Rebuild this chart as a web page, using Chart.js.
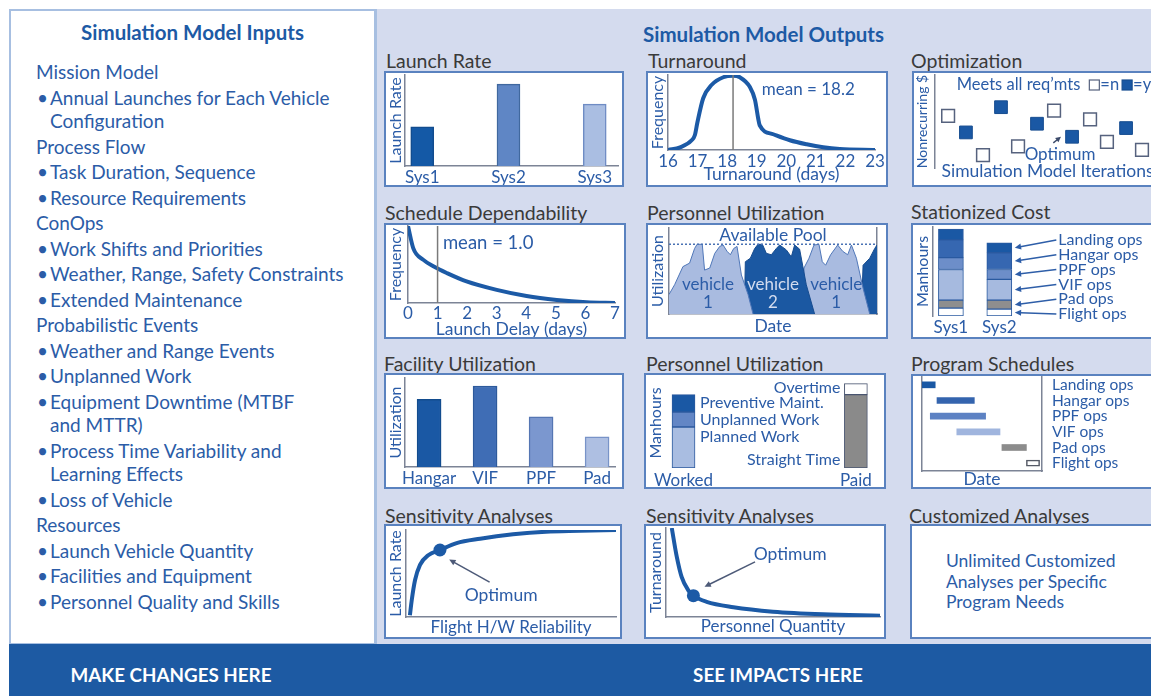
<!DOCTYPE html>
<html lang="en">
<head>
<meta charset="utf-8">
<title>Simulation Model Inputs and Outputs</title>
<script src="https://cdn.jsdelivr.net/npm/chart.js@4.4.1/dist/chart.umd.min.js"></script>
<style>
  html, body { margin: 0; padding: 0; }
  body {
    width: 1151px; height: 696px; position: relative; overflow: hidden;
    background: #ffffff; font-family: Lato, "Open Sans", sans-serif;
  }
  #inputs {
    position: absolute; left: 9px; top: 9px; width: 367px; height: 636px;
    box-sizing: border-box; border: 2px solid #a7bfe1; background: #fff;
  }
  #inputs h2 {
    margin: 0; position: absolute; left: 0; right: 0; top: 10px; line-height: 22px;
    text-align: center; font-size: 20.5px; font-weight: bold; color: #1d5aa5;
  }
  #inputList { position: absolute; left: 25px; top: 49px; font-size: 19px; color: #2b5ca7; white-space: nowrap; }
  #inputList div { line-height: 23.5px; margin-top: 2px; }
  #inputList div:first-child { margin-top: 0; }
  #inputList .item { padding-left: 14px; position: relative; }
  #inputList .dot { position: absolute; left: 1px; }
  #outputs { position: absolute; left: 376px; top: 9px; width: 775px; height: 635px; background: #d4dbee; }
  #outputs h2 {
    margin: 0; position: absolute; left: 0; right: 0; top: 14px; line-height: 22px;
    text-align: center; font-size: 20.5px; font-weight: bold; color: #1d5aa5;
  }
  #divider { position: absolute; left: 374px; top: 9px; width: 3px; height: 687px; background: #a7bfe1; }
  #bar { position: absolute; left: 9px; top: 644px; width: 1142px; height: 52px; background: #1d5aa3; }
  #bar span {
    position: absolute; top: 0; line-height: 62px; color: #fff; font-weight: bold;
    font-size: 18.8px; white-space: nowrap; transform: translateX(-50%);
  }
  .ttl { position: absolute; font-size: 19.5px; line-height: 20px; color: #3a3a3a; white-space: nowrap; }
  .box { position: absolute; box-sizing: border-box; border: 2px solid #5a82bf; background: #fff; }
  .box canvas { display: block; }
  #custom { position: absolute; left: 34px; top: 25px; font-size: 17.5px; line-height: 20.5px; color: #2b5ca7; white-space: nowrap; }
</style>
</head>
<body>

<div id="inputs">
  <h2>Simulation Model Inputs</h2>
  <div id="inputList">
    <div>Mission Model</div>
    <div class="item"><span class="dot">•</span>Annual Launches for Each Vehicle<br>Configuration</div>
    <div>Process Flow</div>
    <div class="item"><span class="dot">•</span>Task Duration, Sequence</div>
    <div class="item"><span class="dot">•</span>Resource Requirements</div>
    <div>ConOps</div>
    <div class="item"><span class="dot">•</span>Work Shifts and Priorities</div>
    <div class="item"><span class="dot">•</span>Weather, Range, Safety Constraints</div>
    <div class="item"><span class="dot">•</span>Extended Maintenance</div>
    <div>Probabilistic Events</div>
    <div class="item"><span class="dot">•</span>Weather and Range Events</div>
    <div class="item"><span class="dot">•</span>Unplanned Work</div>
    <div class="item"><span class="dot">•</span>Equipment Downtime (MTBF<br>and MTTR)</div>
    <div class="item"><span class="dot">•</span>Process Time Variability and<br>Learning Effects</div>
    <div class="item"><span class="dot">•</span>Loss of Vehicle</div>
    <div>Resources</div>
    <div class="item"><span class="dot">•</span>Launch Vehicle Quantity</div>
    <div class="item"><span class="dot">•</span>Facilities and Equipment</div>
    <div class="item"><span class="dot">•</span>Personnel Quality and Skills</div>
  </div>
</div>

<div id="outputs"><h2>Simulation Model Outputs</h2></div>
<div id="divider"></div>

<div class="ttl" style="left:386px;top:51px">Launch Rate</div>
<div class="box" style="left:384px;top:71px;width:240px;height:116px"><canvas id="launchRate" width="236" height="112"></canvas></div>
<div class="ttl" style="left:648px;top:51px">Turnaround</div>
<div class="box" style="left:646px;top:71px;width:242px;height:116px"><canvas id="turnaround" width="238" height="112"></canvas></div>
<div class="ttl" style="left:911px;top:51px">Optimization</div>
<div class="box" style="left:912px;top:71px;width:250px;height:116px"><canvas id="optimization" width="246" height="112"></canvas></div>

<div class="ttl" style="left:385px;top:203px">Schedule Dependability</div>
<div class="box" style="left:384px;top:223px;width:242px;height:116px"><canvas id="dependability" width="238" height="112"></canvas></div>
<div class="ttl" style="left:647px;top:203px">Personnel Utilization</div>
<div class="box" style="left:646px;top:223px;width:242px;height:116px"><canvas id="crewPool" width="238" height="112"></canvas></div>
<div class="ttl" style="left:911px;top:202px">Stationized Cost</div>
<div class="box" style="left:911px;top:223px;width:250px;height:116px"><canvas id="stationCost" width="246" height="112"></canvas></div>

<div class="ttl" style="left:384px;top:354px">Facility Utilization</div>
<div class="box" style="left:384px;top:373px;width:240px;height:116px"><canvas id="facility" width="236" height="112"></canvas></div>
<div class="ttl" style="left:646px;top:354px">Personnel Utilization</div>
<div class="box" style="left:644px;top:373px;width:242px;height:116px"><canvas id="manhours" width="238" height="112"></canvas></div>
<div class="ttl" style="left:911px;top:354px">Program Schedules</div>
<div class="box" style="left:911px;top:374px;width:250px;height:115px"><canvas id="schedule" width="246" height="111"></canvas></div>

<div class="ttl" style="left:385px;top:506px">Sensitivity Analyses</div>
<div class="box" style="left:384px;top:524px;width:238px;height:115px"><canvas id="sensReliability" width="234" height="111"></canvas></div>
<div class="ttl" style="left:646px;top:506px">Sensitivity Analyses</div>
<div class="box" style="left:644px;top:524px;width:242px;height:115px"><canvas id="sensPersonnel" width="238" height="111"></canvas></div>
<div class="ttl" style="left:909px;top:506px">Customized Analyses</div>
<div class="box" style="left:910px;top:524px;width:250px;height:115px">
  <div id="custom">Unlimited Customized<br>Analyses per Specific<br>Program Needs</div>
</div>

<div id="bar">
  <span style="left:162px">MAKE CHANGES HERE</span>
  <span style="left:769px">SEE IMPACTS HERE</span>
</div>

<script>
// ---- values ----
const launchSystems = ['Sys1', 'Sys2', 'Sys3'];
const launchRates = [0.43, 0.9, 0.68];

const turnDays = [16, 16.41, 16.8, 16.91, 16.99, 17.19, 17.48, 17.87, 18.2, 18.43, 18.77, 18.94, 19.05, 19.1, 19.56, 20.12, 20.69, 21.25, 21.81, 23];
const turnFreq = [0, 0.035, 0.13, 0.2, 0.36, 0.69, 0.87, 0.97, 0.99, 0.97, 0.84, 0.67, 0.42, 0.33, 0.21, 0.13, 0.076, 0.036, 0.013, 0];
const turnMean = 18.2;

const optIteration = [0.7, 1.65, 2.56, 3.52, 4.43, 5.44, 6.35, 7.31, 8.27, 9.17, 10.19, 11.04];
const optCost = [0.53, 0.34, 0.08, 0.63, 0.18, 0.44, 0.59, 0.29, 0.49, 0.23, 0.39, 0.14];
const optMeetsReqs = [false, true, false, true, false, true, false, true, false, false, true, false];

const delayDays = [0, 0.18, 0.52, 0.89, 1.31, 1.98, 3.0, 4.01, 5.03, 6.04, 7.0];
const delayFreq = [1.0, 0.71, 0.56, 0.47, 0.39, 0.28, 0.17, 0.09, 0.04, 0.01, 0.0];
const delayMean = 1.0;

// personnel pool use over time, one run per vehicle flow
const crewDates1 = [0, 2.7, 6.7, 9.9, 12.3, 13.5, 16, 17.1, 19.6, 22, 24.4, 26, 27.9, 29.5, 31.1, 32.7, 34.8, 38, 40.4];
const crewUse1 = [0.28, 0.42, 0.68, 0.73, 0.94, 1.0, 1.0, 0.63, 0.66, 0.87, 0.97, 0.99, 0.9, 0.85, 0.94, 0.97, 0.56, 0.28, 0];
const crewDates2 = [36.2, 36.7, 39.1, 41.2, 42.8, 44.9, 46.8, 49.2, 51.6, 53.2, 56.4, 58.8, 60.4, 62.8, 66, 70];
const crewUse2 = [0, 0.75, 0.8, 0.94, 1.0, 1.0, 0.87, 0.85, 0.94, 0.99, 0.92, 0.82, 0.99, 0.93, 0.42, 0];
const crewDates3 = [64.1, 64.9, 67.3, 69.7, 72.1, 73.7, 75.3, 77.7, 81.1, 83.5, 85.9, 87.7, 90.1, 93.3, 96.5];
const crewUse3 = [0, 0.66, 0.8, 0.99, 1.0, 0.75, 0.7, 0.85, 0.99, 0.9, 0.85, 0.99, 0.8, 0.37, 0];
const crewDates4 = [92.5, 93.3, 96.5, 98.9, 100];
const crewUse4 = [0, 0.7, 0.8, 0.94, 0.99];
const availablePool = 1.0;

const costSystems = ['Sys1', 'Sys2'];
const costOps = ['Flight ops', 'Pad ops', 'VIF ops', 'PPF ops', 'Hangar ops', 'Landing ops'];
const flightOpsHours = [8, 7];
const padOpsHours = [8, 9];
const vifOpsHours = [31, 21];
const ppfOpsHours = [12, 10];
const hangarOpsHours = [18, 17];
const landingOpsHours = [11, 10];

const facilities = ['Hangar', 'VIF', 'PPF', 'Pad'];
const facilityUse = [0.76, 0.91, 0.565, 0.34];

const laborColumns = ['Worked', 'Paid'];
const workedParts = ['Planned Work', 'Unplanned Work', 'Preventive Maint.'];
const workedHours = [41, 15, 17.4];
const paidParts = ['Straight Time', 'Overtime'];
const paidHours = [73.4, 11];

const scheduleOps = ['Landing ops', 'Hangar ops', 'PPF ops', 'VIF ops', 'Pad ops', 'Flight ops'];
const scheduleStart = [0, 12.5, 6.9, 29, 66.6, 87];
const scheduleEnd = [11, 43.6, 53, 65, 87, 98];

const reliability = [0.019, 0.028, 0.044, 0.068, 0.108, 0.165, 0.246, 0.36, 0.52, 0.68, 0.845, 1.02];
const sensLaunchRate = [0.02, 0.195, 0.425, 0.6, 0.71, 0.77, 0.85, 0.9, 0.95, 0.98, 0.99, 1.0];
const reliabilityBest = 5;

const personnelQty = [0.027, 0.05, 0.073, 0.104, 0.128, 0.19, 0.315, 0.5, 0.735, 1.0];
const sensTurnaround = [1.0, 0.68, 0.45, 0.3, 0.24, 0.17, 0.11, 0.06, 0.03, 0.015];
const personnelBest = 4;

// ---- colours ----
const BLUE = '#2b5ca7';
const NAVY = '#1a58a4';
const CURVE = '#1c5aa6';
const AXIS = '#7c8496';
const NO_GRID = { display: false, drawTicks: false };

document.addEventListener('DOMContentLoaded', function () {
    Chart.defaults.font.family = 'Lato, "Open Sans", sans-serif';
    Chart.defaults.color = BLUE;

    drawLaunchRate();
    drawTurnaround();
    drawOptimization();
    drawDependability();
    drawCrewPool();
    drawStationCost();
    drawFacility();
    drawManhours();
    drawSchedule();
    drawSensitivity('sensReliability', reliability, sensLaunchRate, reliabilityBest, 'Launch Rate', 'Flight H/W Reliability',
        { top: 4, right: 4, bottom: 0, left: 0 }, 1.02, -1,
        [{ type: 'arrow', x: 0.406, y: 0.4, x2: 0.21, y2: 0.66, color: '#4d5a78' },
         { type: 'text', x: 0.462, y: 0.25, text: 'Optimum', size: 17.5 }]);
    drawSensitivity('sensPersonnel', personnelQty, sensTurnaround, personnelBest, 'Turnaround', 'Personnel Quantity',
        { top: 2, right: 4, bottom: 0, left: 0 }, 1, 0,
        [{ type: 'arrow', x: 0.416, y: 0.62, x2: 0.18, y2: 0.34, color: '#4d5a78' },
         { type: 'text', x: 0.58, y: 0.7, text: 'Optimum', size: 17.5 }]);
});

// ---- shared helpers ----
function fitScale(size) {
    return function (scale) {
        if (scale.isHorizontal()) {
            scale.height = size;
        } else {
            scale.width = size;
        }
        scale.paddingLeft = scale.paddingRight = scale.paddingTop = scale.paddingBottom = 0;
    };
}

function axisTitle(text, size, bottomPad) {
    return { display: true, text: text, color: BLUE, font: { size: size }, padding: { top: 0, bottom: bottomPad || 0 } };
}

function lineBorder(show) {
    return { display: show, color: AXIS, width: 1.5 };
}

function valueAxis(title, max, width, border, titleSize) {
    return {
        min: 0, max: max,
        grid: NO_GRID,
        border: lineBorder(border),
        ticks: { display: false },
        title: axisTitle(title, titleSize || 16),
        afterFit: fitScale(width)
    };
}

// linear axis that shows category names at 0, 1, 2 ...
function labelAxis(labels, min, max, height, pad, border) {
    return {
        type: 'linear', min: min, max: max, offset: false,
        grid: NO_GRID,
        border: lineBorder(border),
        afterBuildTicks: function (scale) {
            scale.ticks = labels.map(function (l, i) { return { value: i }; });
        },
        ticks: {
            color: BLUE, font: { size: 17 }, padding: pad, maxRotation: 0, autoSkip: false,
            callback: function (v) { return labels[v]; }
        },
        afterFit: fitScale(height)
    };
}

function chartOptions(padding, scales, extra) {
    return Object.assign({
        responsive: false,
        animation: false,
        events: [],
        layout: { padding: padding, autoPadding: false },
        plugins: { legend: { display: false }, tooltip: { enabled: false } },
        scales: scales
    }, extra || {});
}

function drawArrow(ctx, x1, y1, x2, y2, width, head) {
    const a = Math.atan2(y2 - y1, x2 - x1);
    ctx.lineWidth = width;
    ctx.beginPath();
    ctx.moveTo(x1, y1);
    ctx.lineTo(x2 - Math.cos(a) * head * 0.8, y2 - Math.sin(a) * head * 0.8);
    ctx.stroke();
    ctx.beginPath();
    ctx.moveTo(x2, y2);
    ctx.lineTo(x2 - head * Math.cos(a - 0.45), y2 - head * Math.sin(a - 0.45));
    ctx.lineTo(x2 - head * Math.cos(a + 0.45), y2 - head * Math.sin(a + 0.45));
    ctx.closePath();
    ctx.fill();
}

// annotations given in data units (or pixels when pixel: true)
function notes(items) {
    return {
        id: 'notes',
        afterDatasetsDraw: function (chart) {
            const ctx = chart.ctx;
            const area = chart.chartArea;
            const list = typeof items === 'function' ? items(chart) : items;
            list.forEach(function (n) {
                const xs = chart.scales.x, ys = chart.scales.y;
                const px = function (v) { return n.pixel ? v : xs.getPixelForValue(v); };
                const py = function (v) { return n.pixel ? v : ys.getPixelForValue(v); };
                ctx.save();
                ctx.fillStyle = n.color || BLUE;
                ctx.strokeStyle = n.color || BLUE;
                ctx.font = (n.size || 16) + 'px Lato, "Open Sans", sans-serif';
                ctx.textBaseline = 'middle';
                if (n.type === 'text') {
                    ctx.textAlign = n.align || 'center';
                    ctx.fillText(n.text, px(n.x), py(n.y));
                } else if (n.type === 'arrow') {
                    drawArrow(ctx, px(n.x), py(n.y), px(n.x2), py(n.y2), n.width || 1.5, n.head || 7);
                } else if (n.type === 'vline') {
                    ctx.lineWidth = n.width || 1.5;
                    ctx.beginPath();
                    ctx.moveTo(px(n.x), area.bottom);
                    ctx.lineTo(px(n.x), area.top);
                    ctx.stroke();
                } else if (n.type === 'hline') {
                    ctx.lineWidth = n.width || 1.5;
                    ctx.setLineDash(n.dash || []);
                    ctx.beginPath();
                    ctx.moveTo(area.left, py(n.y));
                    ctx.lineTo(area.right, py(n.y));
                    ctx.stroke();
                } else if (n.type === 'key') {
                    let x = px(n.x);
                    const y = py(n.y);
                    ctx.textAlign = 'left';
                    n.parts.forEach(function (part) {
                        if (part.text) {
                            ctx.fillStyle = n.color || BLUE;
                            ctx.fillText(part.text, x, y);
                            x += ctx.measureText(part.text).width + (part.gap || 0);
                        } else {
                            ctx.fillStyle = part.fill;
                            ctx.fillRect(x, y - part.size / 2, part.size, part.size);
                            ctx.strokeStyle = part.edge;
                            ctx.lineWidth = 1.2;
                            ctx.strokeRect(x, y - part.size / 2, part.size, part.size);
                            x += part.size + 1;
                        }
                    });
                }
                ctx.restore();
            });
        }
    };
}

function curveDataset(xs, ys, best) {
    return {
        data: xs.map(function (x, i) { return { x: x, y: ys[i] }; }),
        borderColor: CURVE,
        borderWidth: 4,
        pointRadius: function (ctx) { return ctx.dataIndex === best ? 6.5 : 0; },
        pointBackgroundColor: CURVE,
        pointBorderWidth: 0,
        cubicInterpolationMode: 'monotone',
        fill: false
    };
}

// ---- charts ----
function drawLaunchRate() {
    new Chart(document.getElementById('launchRate'), {
        type: 'bar',
        data: {
            datasets: [{
                data: launchRates.map(function (v, i) { return { x: i, y: v }; }),
                backgroundColor: ['#1459a6', '#5f86c5', '#aabee2'],
                borderColor: ['#124c8e', '#40689f', '#6f8cc4'],
                borderWidth: 1.5,
                barThickness: 23
            }]
        },
        options: chartOptions({ top: 2, right: 4, bottom: 0, left: 0 }, {
            x: labelAxis(launchSystems, -0.2, 2.27, 19, 1, true),
            y: valueAxis('Launch Rate', 1, 19, true)
        })
    });
}

function drawTurnaround() {
    new Chart(document.getElementById('turnaround'), {
        type: 'line',
        data: { datasets: [curveDataset(turnDays, turnFreq, -1)] },
        options: chartOptions({ top: 2, right: 11, bottom: 0, left: 0 }, {
            x: {
                type: 'linear', min: 16, max: 23, offset: false,
                grid: NO_GRID,
                border: lineBorder(true),
                ticks: { stepSize: 1, color: BLUE, font: { size: 17 }, padding: 1, maxRotation: 0, autoSkip: false },
                title: axisTitle('Turnaround (days)', 17.5),
                afterFit: fitScale(35)
            },
            y: valueAxis('Frequency', 1, 20, true)
        }),
        plugins: [notes([
            { type: 'vline', x: turnMean, color: '#7a7a7a' },
            { type: 'text', x: 19.17, y: 0.81, text: 'mean = ' + turnMean, align: 'left', size: 17 }
        ])]
    });
}

function drawOptimization() {
    const hollow = [], filled = [];
    optIteration.forEach(function (x, i) {
        (optMeetsReqs[i] ? filled : hollow).push({ x: x, y: optCost[i] });
    });
    new Chart(document.getElementById('optimization'), {
        type: 'scatter',
        data: {
            datasets: [
                { data: filled, pointStyle: 'rect', pointRadius: 9, backgroundColor: NAVY, borderColor: '#174d90', borderWidth: 1 },
                { data: hollow, pointStyle: 'rect', pointRadius: 9, backgroundColor: '#ffffff', borderColor: '#56627e', borderWidth: 1.5 }
            ]
        },
        options: chartOptions({ top: 2, right: 0, bottom: 0, left: 0 }, {
            x: {
                type: 'linear', min: 0, max: 12,
                grid: NO_GRID,
                border: lineBorder(false),
                ticks: { display: false },
                title: axisTitle('Simulation Model Iterations', 17.5, 3.5),
                afterFit: fitScale(17)
            },
            y: Object.assign(valueAxis('Nonrecurring $', 1, 21, true, 14), { min: -0.069 })
        }),
        plugins: [notes([
            { type: 'key', x: 1.16, y: 0.885, size: 16.5, parts: [
                { text: 'Meets all req’mts', gap: 9 },
                { fill: '#ffffff', edge: '#56627e', size: 10 },
                { text: '=n', gap: 3 },
                { fill: NAVY, edge: '#174d90', size: 10 },
                { text: '=y' }
            ] },
            { type: 'arrow', x: 6.31, y: 0.22, x2: 6.72, y2: 0.29, color: '#3b4a6a', head: 6 },
            { type: 'text', x: 6.67, y: 0.085, text: 'Optimum', size: 17 }
        ])]
    });
}

function drawDependability() {
    new Chart(document.getElementById('dependability'), {
        type: 'line',
        data: { datasets: [curveDataset(delayDays, delayFreq, -1)] },
        options: chartOptions({ top: 1, right: 9, bottom: 0, left: 0 }, {
            x: {
                type: 'linear', min: 0, max: 7, offset: false,
                grid: NO_GRID,
                border: lineBorder(true),
                ticks: { stepSize: 1, color: BLUE, font: { size: 17 }, padding: 0, maxRotation: 0, autoSkip: false },
                title: axisTitle('Launch Delay (days)', 17.5, -3),
                afterFit: fitScale(34)
            },
            y: valueAxis('Frequency', 1, 22, true)
        }),
        plugins: [notes([
            { type: 'vline', x: delayMean, color: '#7a7a7a' },
            { type: 'text', x: 1.18, y: 0.78, text: 'mean = ' + delayMean.toFixed(1), align: 'left', size: 18.5 }
        ])]
    });
}

function drawCrewPool() {
    const runs = [[crewDates1, crewUse1], [crewDates2, crewUse2], [crewDates3, crewUse3], [crewDates4, crewUse4]];
    const datasets = runs.map(function (run, k) {
        const dark = k % 2 === 1;
        return {
            data: run[0].map(function (x, i) { return { x: x, y: run[1][i] }; }),
            borderColor: dark ? '#174c8f' : '#5077b8',
            borderWidth: 1,
            backgroundColor: dark ? '#1b58a2' : '#a9bbe0',
            fill: 'origin',
            pointRadius: 0,
            tension: 0
        };
    });
    new Chart(document.getElementById('crewPool'), {
        type: 'line',
        data: { datasets: datasets },
        options: chartOptions({ top: 3, right: 9, bottom: 0, left: 0 }, {
            x: {
                type: 'linear', min: 0, max: 100,
                grid: NO_GRID,
                border: lineBorder(true),
                ticks: { display: false },
                title: axisTitle('Date', 17.5),
                afterFit: fitScale(23)
            },
            y: valueAxis('Utilization', 1.234, 21, true),
            yRight: {
                type: 'linear', position: 'right', min: 0, max: 1,
                grid: NO_GRID,
                border: lineBorder(true),
                ticks: { display: false },
                afterFit: fitScale(0)
            }
        }),
        plugins: [notes([
            { type: 'hline', y: availablePool, dash: [2, 2], color: '#4a72b4' },
            { type: 'text', x: 50, y: 1.13, text: 'Available Pool', size: 17.5 },
            { type: 'text', x: 18.75, y: 0.43, text: 'vehicle', size: 17 },
            { type: 'text', x: 18.75, y: 0.16, text: crewVehicleName(0), size: 17 },
            { type: 'text', x: 50, y: 0.43, text: 'vehicle', size: 17, color: '#d3dcef' },
            { type: 'text', x: 50, y: 0.16, text: crewVehicleName(1), size: 17, color: '#d3dcef' },
            { type: 'text', x: 80.4, y: 0.43, text: 'vehicle', size: 17 },
            { type: 'text', x: 80.4, y: 0.16, text: crewVehicleName(2), size: 17 }
        ])]
    });
}

function crewVehicleName(k) {
    return k % 2 === 0 ? '1' : '2';
}

function drawStationCost() {
    const byOp = [flightOpsHours, padOpsHours, vifOpsHours, ppfOpsHours, hangarOpsHours, landingOpsHours];
    const fills = ['#ffffff', '#8e8e8e', '#a6badf', '#6d8ec9', '#3667b1', '#1a58a4'];
    const datasets = byOp.map(function (hours, k) {
        return {
            data: hours.map(function (v, i) { return { x: i, y: v }; }),
            backgroundColor: fills[k],
            borderColor: '#2a5aa0',
            borderWidth: 1,
            borderSkipped: false,
            barThickness: 25
        };
    });
    new Chart(document.getElementById('stationCost'), {
        type: 'bar',
        data: { datasets: datasets },
        options: chartOptions({ top: 2, right: 0, bottom: 0, left: 0 }, {
            x: Object.assign(labelAxis(costSystems, -0.37, 4.3, 21, 1, false), { stacked: true }),
            y: Object.assign(valueAxis('Manhours', 90, 20, true), { stacked: true })
        }),
        plugins: [notes(function (chart) {
            const area = chart.chartArea;
            const labelX = chart.scales.x.getPixelForValue(2.22);
            const items = [];
            costOps.slice().reverse().forEach(function (op, row) {
                const k = costOps.length - 1 - row;
                const bar = chart.getDatasetMeta(k).data[1];
                const rowY = area.top + 13 + row * 14.8;
                items.push({ type: 'text', pixel: true, x: labelX, y: rowY, text: op, align: 'left', size: 16 });
                items.push({ type: 'arrow', pixel: true, x: labelX - 2, y: rowY, x2: bar.x + bar.width / 2 + 3, y2: (bar.y + bar.base) / 2, head: 7, color: '#2e5ea8' });
            });
            return items;
        })]
    });
}

function drawFacility() {
    new Chart(document.getElementById('facility'), {
        type: 'bar',
        data: {
            datasets: [{
                data: facilityUse.map(function (v, i) { return { x: i, y: v }; }),
                backgroundColor: ['#1a58a4', '#3f6db5', '#7b97cf', '#aebfe2'],
                borderColor: ['#124c8e', '#2d5a9c', '#5576b3', '#7893c8'],
                borderWidth: 1.5,
                barThickness: 24
            }]
        },
        options: chartOptions({ top: 3, right: 7, bottom: 0, left: 0 }, {
            x: labelAxis(facilities, -0.43, 3.32, 20, 1, true),
            y: valueAxis('Utilization', 1, 19, true)
        })
    });
}

function drawManhours() {
    const workedFills = ['#a9bde1', '#6386c5', '#1a58a4'];
    const paidFills = ['#8a8a8a', '#ffffff'];
    const datasets = workedParts.map(function (name, i) {
        return { label: name, data: [{ x: 0, y: workedHours[i] }], backgroundColor: workedFills[i], borderColor: '#2c5a9e', borderWidth: 1, borderSkipped: false, barThickness: 23 };
    }).concat(paidParts.map(function (name, i) {
        return { label: name, data: [{ x: 1, y: paidHours[i] }], backgroundColor: paidFills[i], borderColor: '#4a5670', borderWidth: 1, borderSkipped: false, barThickness: 23 };
    }));
    new Chart(document.getElementById('manhours'), {
        type: 'bar',
        data: { datasets: datasets },
        options: chartOptions({ top: 3, right: 4, bottom: 0, left: 0 }, {
            x: Object.assign(labelAxis(laborColumns, -0.09, 1.14, 19, 2, false), { stacked: true }),
            y: Object.assign(valueAxis('Manhours', 90, 22, false), { stacked: true })
        }),
        plugins: [notes([
            { type: 'text', x: 0.096, y: 64.7, text: workedParts[2], align: 'left', size: 16 },
            { type: 'text', x: 0.096, y: 48, text: workedParts[1], align: 'left', size: 16 },
            { type: 'text', x: 0.096, y: 30.7, text: workedParts[0], align: 'left', size: 16 },
            { type: 'text', x: 0.91, y: 80, text: paidParts[1], align: 'right', size: 16 },
            { type: 'text', x: 0.91, y: 7.7, text: paidParts[0], align: 'right', size: 16 }
        ])]
    });
}

function drawSchedule() {
    new Chart(document.getElementById('schedule'), {
        type: 'bar',
        data: {
            labels: scheduleOps,
            datasets: [{
                data: scheduleOps.map(function (op, i) { return [scheduleStart[i], scheduleEnd[i]]; }),
                backgroundColor: ['#1a58a4', '#3464ae', '#5d82c3', '#a0b5de', '#8c8c8c', '#ffffff'],
                borderColor: ['#1a58a4', '#3464ae', '#5d82c3', '#a0b5de', '#8c8c8c', '#555a66'],
                borderWidth: [0, 0, 0, 0, 0, 1.5],
                borderSkipped: false,
                barThickness: 6
            }]
        },
        options: chartOptions({ top: 1, right: 0, bottom: 0, left: 9 }, {
            x: {
                type: 'linear', min: 0, max: 100,
                grid: NO_GRID,
                border: lineBorder(true),
                ticks: { display: false },
                title: axisTitle('Date', 17.5, -3),
                afterFit: fitScale(16)
            },
            y: {
                position: 'right',
                grid: NO_GRID,
                border: lineBorder(true),
                ticks: { color: BLUE, font: { size: 15.5 }, padding: 10, crossAlign: 'near', autoSkip: false },
                afterFit: fitScale(117)
            },
            yLeft: {
                type: 'linear', position: 'left', min: 0, max: 1,
                grid: NO_GRID,
                border: lineBorder(true),
                ticks: { display: false },
                afterFit: fitScale(0)
            }
        }, { indexAxis: 'y' })
    });
}

function drawSensitivity(id, xs, ys, best, yTitle, xTitle, padding, xMax, titlePad, extra) {
    new Chart(document.getElementById(id), {
        type: 'line',
        data: { datasets: [curveDataset(xs, ys, best)] },
        options: chartOptions(padding, {
            x: {
                type: 'linear', min: 0, max: xMax,
                grid: NO_GRID,
                border: lineBorder(true),
                ticks: { display: false },
                title: axisTitle(xTitle, 17, titlePad),
                afterFit: fitScale(20)
            },
            y: valueAxis(yTitle, 1, 20, true)
        }),
        plugins: [notes(extra)]
    });
}
</script>
</body>
</html>
